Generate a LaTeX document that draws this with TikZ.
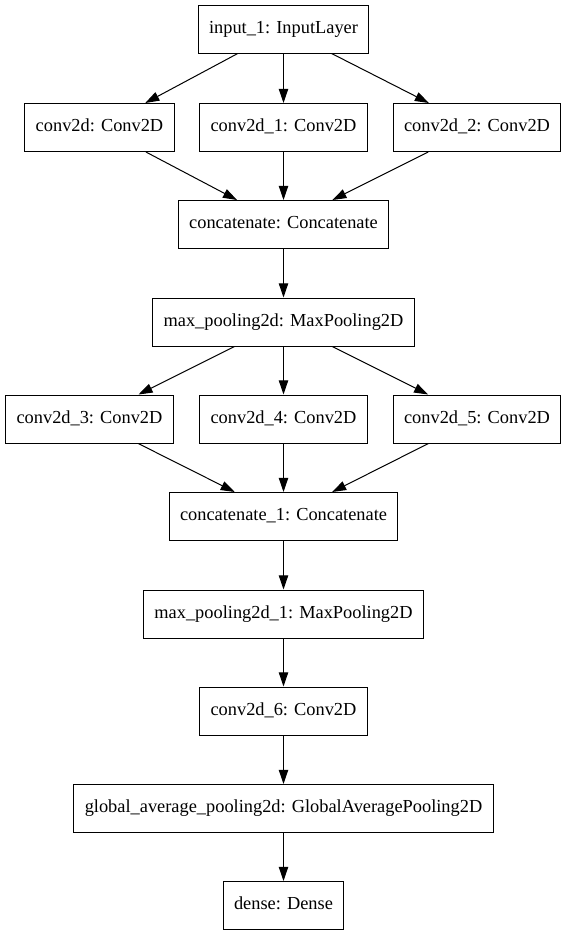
\documentclass[tikz,border=0pt]{standalone}
\usepackage{fontspec}
\setmainfont{Liberation Serif}
\usetikzlibrary{arrows.meta}

\begin{document}
\begin{tikzpicture}[
				lay/.style={rectangle,draw,line width=0.57pt,minimum height=0.96cm,inner xsep=0.22cm,inner ysep=0pt,
					font=\fontsize{10.45}{12}\selectfont,text height=1.6ex,text depth=0.5ex},
				dn/.style={-{Triangle[length=8pt,width=5.3pt]},line width=0.57pt}
				]
				\useasboundingbox (0,0) rectangle (11.34,-18.72);
				\node[lay] (in0) at (5.67,-0.58) {input\_1: InputLayer};
				
				\node[lay] (c0) at (1.99,-2.55) {conv2d: Conv2D};
				\node[lay] (c1) at (5.67,-2.55) {conv2d\_1: Conv2D};
				\node[lay] (c2) at (9.54,-2.55) {conv2d\_2: Conv2D};
				\draw[dn] (in0)--(c0); \draw[dn] (in0)--(c1); \draw[dn] (in0)--(c2);
				
				\node[lay] (cat0) at (5.67,-4.49) {concatenate: Concatenate};
				\draw[dn] (c0)--(cat0); \draw[dn] (c1)--(cat0); \draw[dn] (c2)--(cat0);
				
				\node[lay] (mp0) at (5.67,-6.44) {max\_pooling2d: MaxPooling2D};
				\draw[dn] (cat0)--(mp0);
				
				\node[lay] (c3) at (1.79,-8.38) {conv2d\_3: Conv2D};
				\node[lay] (c4) at (5.67,-8.38) {conv2d\_4: Conv2D};
				\node[lay] (c5) at (9.54,-8.38) {conv2d\_5: Conv2D};
				\draw[dn] (mp0)--(c3); \draw[dn] (mp0)--(c4); \draw[dn] (mp0)--(c5);
				
				\node[lay] (cat1) at (5.67,-10.33) {concatenate\_1: Concatenate};
				\draw[dn] (c3)--(cat1); \draw[dn] (c4)--(cat1); \draw[dn] (c5)--(cat1);
				
				\node[lay] (mp1) at (5.67,-12.28) {max\_pooling2d\_1: MaxPooling2D};
				\node[lay] (c6) at (5.67,-14.22) {conv2d\_6: Conv2D};
				\node[lay] (gap) at (5.67,-16.17) {global\_average\_pooling2d: GlobalAveragePooling2D};
				\node[lay] (fc) at (5.67,-18.11) {dense: Dense};
				\draw[dn] (cat1)--(mp1); \draw[dn] (mp1)--(c6); \draw[dn] (c6)--(gap); \draw[dn] (gap)--(fc);
			\end{tikzpicture}
\end{document}
